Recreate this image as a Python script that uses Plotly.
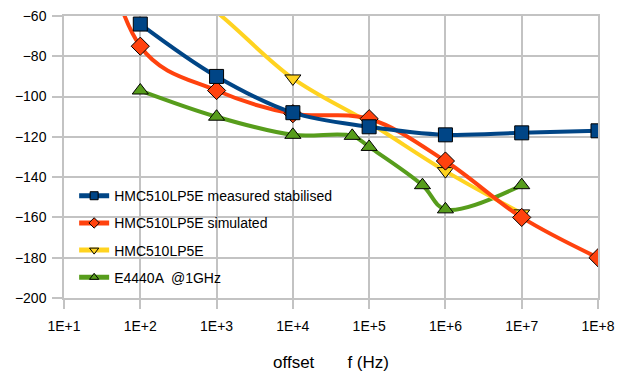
import plotly.graph_objects as go

# ---- data ----
x_ticks = [1e1, 1e2, 1e3, 1e4, 1e5, 1e6, 1e7, 1e8]
x_ticktext = ["1E+1", "1E+2", "1E+3", "1E+4", "1E+5", "1E+6", "1E+7", "1E+8"]
y_ticks = [-60, -80, -100, -120, -140, -160, -180, -200]

meas_name = "HMC510LP5E measured stabilised"
meas_x = [1e2, 1e3, 1e4, 1e5, 1e6, 1e7, 1e8]
meas_y = [-64, -90, -108, -115, -119, -118, -117]

sim_name = "HMC510LP5E simulated"
sim_x = [1e1, 1e2, 1e3, 1e4, 1e5, 1e6, 1e7, 1e8]
sim_y = [100, -75, -97, -108.5, -111, -132, -160, -180]

data_name = "HMC510LP5E"
data_x = [1e2, 1e3, 1e4, 1e5, 1e6, 1e7]
data_y = [-30, -58, -91, -113, -137, -158]

sa_name = "E4440A  @1GHz"
sa_x = [1e2, 1e3, 1e4, 6e4, 1e5, 5e5, 1e6, 1e7]
sa_y = [-97, -110, -119, -119.5, -125, -144, -156, -144]

# ---- styling ----
BLUE = "#004586"
RED = "#ff420e"
YELLOW = "#ffd320"
GREEN = "#579d1c"
GRID = "#c3c3c3"
REG = "Liberation Sans, Arial, sans-serif"
Y_MIN, Y_MAX = -200, -60

fig = go.Figure()

series = [
    # drawn bottom->top: green, yellow, red, blue
    (sa_name, sa_x, sa_y, GREEN, "triangle-up", 14),
    (data_name, data_x, data_y, YELLOW, "triangle-down", 14),
    (sim_name, sim_x, sim_y, RED, "diamond", 14),
    (meas_name, meas_x, meas_y, BLUE, "square", 14),
]

for name, xs, ys, color, symbol, size in series:
    # like the original chart, markers whose centre is outside the plot are not drawn
    sizes = [size if Y_MIN <= v <= Y_MAX else 0 for v in ys]
    fig.add_trace(go.Scatter(
        x=xs, y=ys, name=name, mode="lines+markers", showlegend=False,
        line=dict(color=color, width=4, shape="spline", smoothing=1),
        marker=dict(symbol=symbol, size=sizes, color=color, opacity=1,
                    line=dict(color="#000000", width=1)),
    ))

# legend entries (small symbols as in the original legend), listed top to bottom
for name, xs, ys, color, symbol, size in reversed(series):
    fig.add_trace(go.Scatter(
        x=[None], y=[None], name=name, mode="lines+markers", showlegend=True,
        legendgroup=name,
        line=dict(color=color, width=5),
        marker=dict(symbol=symbol, size=8, color=color,
                    line=dict(color="#000000", width=1)),
    ))

fig.update_layout(
    width=623, height=374,
    margin=dict(l=64, r=25, t=16, b=76, autoexpand=False),
    paper_bgcolor="white", plot_bgcolor="white",
    showlegend=True,
    legend=dict(
        x=0.019, y=0.418, xanchor="left", yanchor="top",
        traceorder="grouped", tracegroupgap=6,
        itemwidth=30,
        bgcolor="rgba(0,0,0,0)", borderwidth=0,
        font=dict(family=REG, size=14, color="#000000"),
    ),
)

fig.update_xaxes(
    type="log", range=[1, 8], automargin=False,
    tickvals=x_ticks, ticktext=x_ticktext,
    showgrid=True, gridcolor=GRID, gridwidth=1.5,
    showline=True, linecolor=GRID, linewidth=1.5, mirror=True,
    ticks="outside", ticklen=9, tickcolor=GRID, tickwidth=1.5,
    tickfont=dict(family=REG, size=14, color="#000000"),
    ticklabelstandoff=5,
    zeroline=False,
    title=dict(text="offset" + "\u00a0" * 7 + "f (Hz)",
               font=dict(family=REG, size=17, color="#000000"),
               standoff=24),
)
fig.update_yaxes(
    range=[Y_MIN, Y_MAX], automargin=False,
    tickvals=y_ticks,
    showgrid=True, gridcolor=GRID, gridwidth=1.5,
    showline=True, linecolor=GRID, linewidth=1.5, mirror=True,
    ticks="outside", ticklen=10, tickcolor=GRID, tickwidth=1.5,
    tickfont=dict(family=REG, size=14, color="#000000"),
    ticklabelstandoff=3,
    zeroline=False,
)

fig.write_html("out.html")
